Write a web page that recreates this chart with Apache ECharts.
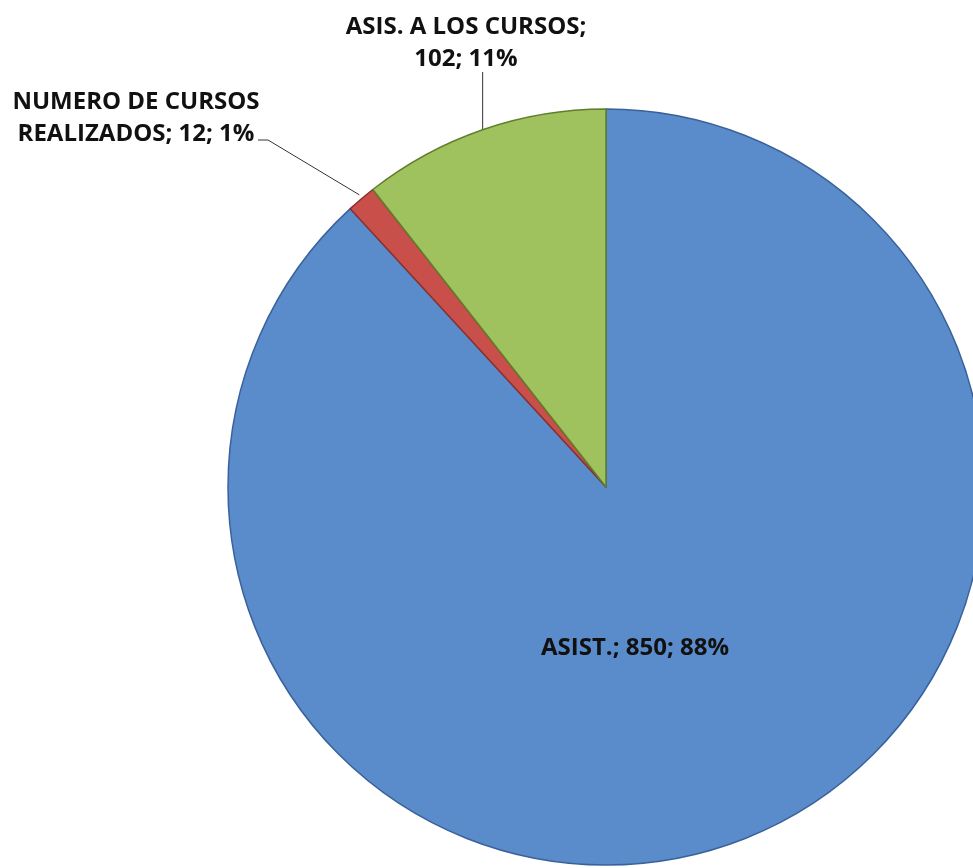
<!DOCTYPE html>
<html><head><meta charset="utf-8">
<script src="https://cdn.jsdelivr.net/npm/echarts@6/dist/echarts.min.js"></script>
<style>html,body{margin:0;padding:0;background:#fff}#c{width:973px;height:868px}</style>
</head><body><div id="c"></div>
<script>
const categories = ['ASIST.', 'NUMERO DE CURSOS REALIZADOS', 'ASIS. A LOS CURSOS'];
const values = [850, 12, 102];
const colors = ['#5a8bcb', '#c9504a', '#9fc25e'];
const borders = ['#3a629a', '#8e2f2b', '#5f7f2c'];

const chart = echarts.init(document.getElementById('c'), null, {renderer: 'canvas'});
const data = categories.map((n, i) => ({
  name: n, value: values[i],
  itemStyle: {color: colors[i], borderColor: borders[i], borderWidth: 1.5},
  label: {position: i === 0 ? 'inside' : 'outside'}
}));
function fmt(p) {
  const d = Math.round(p.percent);
  if (p.dataIndex === 1) return 'NUMERO DE CURSOS\nREALIZADOS; ' + p.value + '; ' + d + '%';
  if (p.dataIndex === 2) return p.name + ';\n' + p.value + '; ' + d + '%';
  return p.name + '; ' + p.value + '; ' + d + '%';
}
chart.setOption({
  animation: false,
  series: [{
    type: 'pie',
    center: [606, 487],
    radius: 378,
    startAngle: 90,
    clockwise: true,
    percentPrecision: 0,
    data: data,
    label: {
      formatter: fmt,
      fontFamily: 'Open Sans',
      fontWeight: 'bold',
      fontSize: 24,
      color: '#111',
      lineHeight: 32
    },
    labelLine: {show: true, lineStyle: {color: '#333', width: 1}},
    labelLayout: function (p) {
      const e = p.labelLinePoints ? p.labelLinePoints[0] : null;
      if (p.dataIndex === 0) return {x: 635, y: 648, align: 'center', verticalAlign: 'middle'};
      if (p.dataIndex === 1) return {x: 136, y: 118, align: 'center', verticalAlign: 'middle',
        labelLinePoints: [[e[0] - 2, e[1] - 4], [268, 140], [258, 140]]};
      return {x: 466, y: 43, align: 'center', verticalAlign: 'middle',
        labelLinePoints: [[e[0], e[1]], [e[0], 72], [e[0], 72]]};
    }
  }]
});
</script></body></html>
